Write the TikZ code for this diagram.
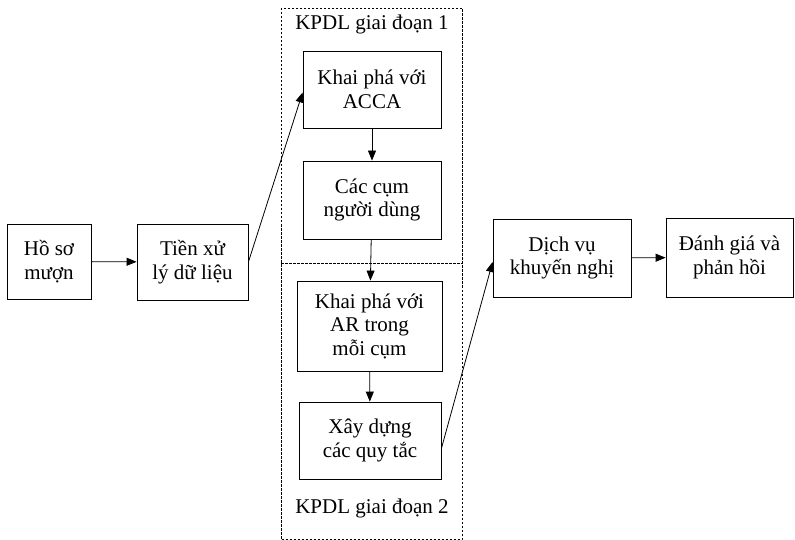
\documentclass[tikz,border=0pt]{standalone}
\usepackage{fontspec}
\setmainfont{Liberation Serif}
\usetikzlibrary{arrows.meta}
\tikzset{
    box/.style={draw, line width=0.8pt, align=center, inner sep=0pt,
        font=\fontsize{21}{23.5}\selectfont},
    stagetext/.style={font=\fontsize{21}{23.5}\selectfont},
    arr/.style={-{Triangle[length=10pt,width=8pt]}, line width=0.8pt},
    stageframe/.style={line width=0.7pt, dash pattern=on 2.5pt off 1.5pt}
}
\begin{document}
\begin{tikzpicture}[x=1pt, y=-1pt]
    \useasboundingbox (0,0) rectangle (795,540);
    % khung hai giai doan
    \draw[stageframe] (281,8) rectangle (462,539.5);
    \draw[stageframe] (281,263) -- (462,263);
    \node[stagetext] (gd1) at (372,24) {KPDL giai đoạn 1};
    \node[stagetext] (gd2) at (372,508) {KPDL giai đoạn 2};
    % cac buoc
    \node[box, minimum width=84pt, minimum height=75pt] (hoso) at (49,261.5) {Hồ sơ\\mượn};
    \node[box, minimum width=111pt, minimum height=76pt] (tienxuly) at (192.5,262) {Tiền xử\\lý dữ liệu};
    \node[box, minimum width=138pt, minimum height=77pt] (acca) at (372,89.5) {Khai phá với\\ACCA};
    \node[box, minimum width=138pt, minimum height=78pt] (cum) at (372,200) {Các cụm\\người dùng};
    \node[box, minimum width=145pt, minimum height=90pt] (ar) at (369.5,326) {Khai phá với\\AR trong\\mỗi cụm};
    \node[box, minimum width=142pt, minimum height=77pt] (quytac) at (370,440.5) {Xây dựng\\các quy tắc};
    \node[box, minimum width=138pt, minimum height=78pt] (dichvu) at (562,258) {Dịch vụ\\khuyến nghị};
    \node[box, minimum width=127pt, minimum height=79pt] (danhgia) at (729.5,257.5) {Đánh giá và\\phản hồi};
    % cac mui ten
    \draw[arr] (hoso) -- (tienxuly);
    \draw[arr] (tienxuly.east) -- ([yshift=-3pt]acca.west);
    \draw[arr] (acca) -- (cum);
    \draw[arr] (cum) -- (ar);
    \draw[arr] (ar) -- (quytac);
    \draw[arr] ([yshift=-8pt]quytac.east) -- ([yshift=-4pt]dichvu.west);
    \draw[arr] (dichvu) -- (danhgia);
\end{tikzpicture}
\end{document}
